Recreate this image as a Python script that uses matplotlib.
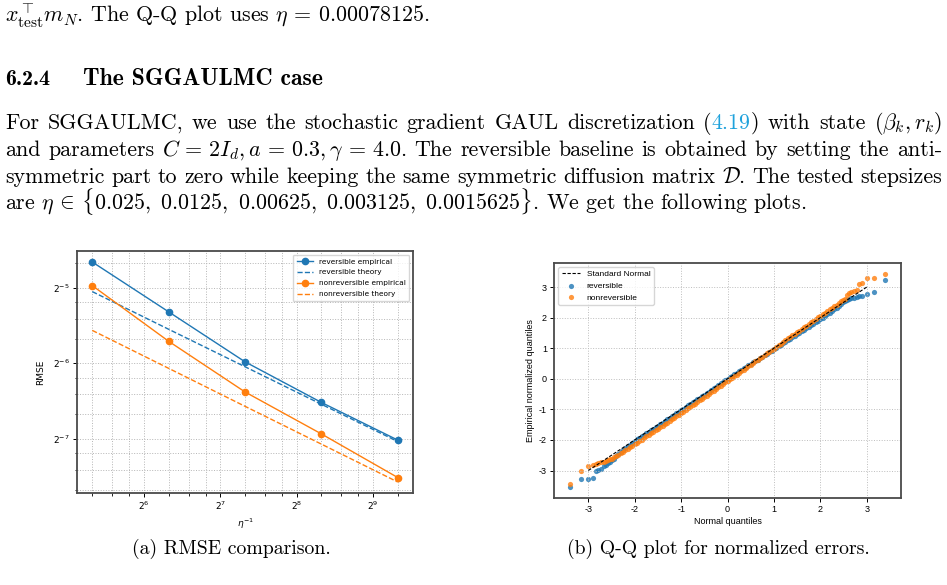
import matplotlib
matplotlib.use("Agg")
import matplotlib.pyplot as plt
from matplotlib.ticker import LogLocator, NullFormatter, FixedLocator

plt.rcParams['axes.unicode_minus'] = False

# ---- data: RMSE comparison (panel a) ----
inv_eta = [40, 80, 160, 320, 640]
rev_emp = [0.0395, 0.0250, 0.0158, 0.01088, 0.00770]
rev_theory = [0.0301, 0.0213, 0.0151, 0.0107, 0.00760]
nonrev_emp = [0.0318, 0.01908, 0.01198, 0.00815, 0.00546]
nonrev_theory = [0.02108, 0.01488, 0.01050, 0.00742, 0.00524]

# ---- data: Q-Q plot (panel b) ----
qq_x = [-3.40, -3.15, -3.00, -2.90, -2.84, -2.79, -2.73, -2.67, -2.62, -2.57, -2.53,
        -2.50, -2.45, -2.40, -2.35, -2.30, -2.25, -2.20, -2.15, -2.10, -2.05,
        -2.00, -1.95, -1.90, -1.85, -1.80, -1.75, -1.70, -1.65, -1.60, -1.55,
        -1.50, -1.45, -1.40, -1.35, -1.30, -1.25, -1.20, -1.15, -1.10, -1.05,
        -1.00, -0.95, -0.90, -0.85, -0.80, -0.75, -0.70, -0.65, -0.60, -0.55,
        -0.50, -0.45, -0.40, -0.35, -0.30, -0.25, -0.20, -0.15, -0.10, -0.05,
        0.00, 0.05, 0.10, 0.15, 0.20, 0.25, 0.30, 0.35, 0.40, 0.45,
        0.50, 0.55, 0.60, 0.65, 0.70, 0.75, 0.80, 0.85, 0.90, 0.95,
        1.00, 1.05, 1.10, 1.15, 1.20, 1.25, 1.30, 1.35, 1.40, 1.45,
        1.50, 1.55, 1.60, 1.65, 1.70, 1.75, 1.80, 1.85, 1.90, 1.95,
        2.00, 2.05, 2.10, 2.15, 2.20, 2.25, 2.30, 2.35, 2.40, 2.45,
        2.50, 2.53, 2.57, 2.62, 2.67, 2.73, 2.79, 2.84, 2.90, 3.00, 3.15, 3.40]
qq_rev = [-3.55, -3.29, -3.28, -3.25, -3.01, -2.98, -2.96, -2.84, -2.81, -2.77, -2.72,
          -2.67, -2.61, -2.54, -2.47, -2.40, -2.34, -2.27, -2.21, -2.15, -2.10,
          -2.04, -1.98, -1.93, -1.88, -1.83, -1.78, -1.73, -1.68, -1.63, -1.58,
          -1.53, -1.48, -1.43, -1.38, -1.33, -1.28, -1.23, -1.18, -1.13, -1.08,
          -1.03, -0.98, -0.93, -0.87, -0.82, -0.77, -0.72, -0.67, -0.62, -0.57,
          -0.52, -0.47, -0.42, -0.36, -0.31, -0.26, -0.21, -0.15, -0.10, -0.05,
          0.00, 0.05, 0.10, 0.15, 0.20, 0.24, 0.29, 0.34, 0.39, 0.44,
          0.49, 0.54, 0.58, 0.63, 0.68, 0.73, 0.77, 0.82, 0.87, 0.91,
          0.96, 1.01, 1.06, 1.11, 1.16, 1.21, 1.26, 1.31, 1.36, 1.41,
          1.46, 1.51, 1.56, 1.60, 1.65, 1.70, 1.75, 1.80, 1.85, 1.90,
          1.95, 2.00, 2.06, 2.11, 2.16, 2.21, 2.27, 2.33, 2.38, 2.44,
          2.50, 2.53, 2.57, 2.60, 2.63, 2.66, 2.68, 2.70, 2.72, 2.79, 2.85, 3.24]
qq_nonrev = [-3.44, -3.00, -2.85, -2.81, -2.78, -2.75, -2.73, -2.71, -2.68, -2.66, -2.63,
             -2.61, -2.57, -2.52, -2.48, -2.43, -2.39, -2.34, -2.29, -2.24, -2.19,
             -2.14, -2.09, -2.04, -1.99, -1.94, -1.88, -1.83, -1.78, -1.73, -1.68,
             -1.63, -1.58, -1.53, -1.48, -1.43, -1.38, -1.32, -1.27, -1.22, -1.17,
             -1.12, -1.07, -1.02, -0.96, -0.91, -0.86, -0.81, -0.76, -0.70, -0.65,
             -0.60, -0.55, -0.49, -0.44, -0.39, -0.34, -0.28, -0.23, -0.18, -0.12,
             -0.07, -0.02, 0.04, 0.09, 0.14, 0.19, 0.25, 0.30, 0.35, 0.41,
             0.46, 0.51, 0.57, 0.62, 0.67, 0.73, 0.78, 0.83, 0.88, 0.94,
             0.99, 1.05, 1.10, 1.15, 1.21, 1.26, 1.32, 1.37, 1.42, 1.48,
             1.53, 1.58, 1.64, 1.69, 1.74, 1.79, 1.85, 1.90, 1.95, 2.01,
             2.06, 2.11, 2.16, 2.22, 2.27, 2.32, 2.37, 2.42, 2.48, 2.53,
             2.58, 2.62, 2.75, 2.80, 2.84, 2.88, 2.92, 3.10, 3.15, 3.29, 3.30, 3.44]
qq_ticks = [-3, -2, -1, 0, 1, 2, 3]

W, H = 947, 585
fig = plt.figure(figsize=(W / 100, H / 100), dpi=100)
renderer = fig.canvas.get_renderer()
LINK = '#1fa2dc'


def put(x, y, s, size=None, **kw):
    # x, y in pixels from the top-left corner, y is the baseline
    kw.setdefault('family', 'cmr10')
    kw.setdefault('math_fontfamily', 'cm')
    return fig.text(x / W, 1 - y / H, s, va='baseline', fontsize=size or FS, **kw)


def fit_size(s, width, **kw):
    t = put(0, 0, s, size=10, **kw)
    w = t.get_window_extent(renderer).width
    t.remove()
    return 10 * width / w


def justify(y, words, x0=5, x1=942):
    pieces = []
    for word in words:
        if isinstance(word, str):
            word = [(word, 'black')]
        segs = [put(0, y, s, color=c) for s, c in word]
        ws = [t.get_window_extent(renderer).width for t in segs]
        pieces.append((segs, ws))
    total = sum(sum(ws) for _, ws in pieces)
    gap = (x1 - x0 - total) / (len(pieces) - 1)
    x = x0
    for segs, ws in pieces:
        for t, w in zip(segs, ws):
            t.set_x(x / W)
            x += w
        x += gap


# font size chosen so that the last (unjustified) paragraph line is as wide as in the page
last_line = (r'are $\eta\,\in\,\{0.025,\ 0.0125,\ 0.00625,\ 0.003125,\ 0.0015625\}$. '
             r'We get the following plots.')
FS = 10
FS = fit_size(last_line, 803)

# ---- page text ----
put(5, 22, r'$x_{\mathrm{test}}^{\top}m_N$. The Q-Q plot uses $\eta\,=\,0.00078125$.')
put(5, 85, '6.2.4', family='cmb10')
put(83, 85, 'The SGGAULMC case', family='cmb10', size=FS * 1.08)

justify(129, ['For', 'SGGAULMC,', 'we', 'use', 'the', 'stochastic', 'gradient', 'GAUL',
              'discretization', [('(', 'black'), ('4.19', LINK), (')', 'black')],
              'with', 'state', r'$(\beta_k, r_k)$'])
justify(156, ['and', 'parameters', r'$C\,=\,2I_d, a\,=\,0.3, \gamma\,=\,4.0$.', 'The', 'reversible',
              'baseline', 'is', 'obtained', 'by', 'setting', 'the', 'anti-'])
justify(183, ['symmetric', 'part', 'to', 'zero', 'while', 'keeping', 'the', 'same', 'symmetric',
              'diffusion', 'matrix', r'$\mathcal{D}$.', 'The', 'tested', 'stepsizes'])
put(5, 210, last_line)

put(231, 554, '(a) RMSE comparison.', ha='center', size=FS * 0.9)
put(718, 554, '(b) Q-Q plot for normalized errors.', ha='center', size=FS * 0.9)

# ---- panel (a): RMSE ----
ax1 = fig.add_axes([77 / W, 1 - 493 / H, 336 / W, 242 / H])
ax1.plot(inv_eta, rev_emp, 'o-', color='tab:blue', ms=4.5, lw=1, label='reversible empirical')
ax1.plot(inv_eta, rev_theory, '--', color='tab:blue', lw=1, label='reversible theory')
ax1.plot(inv_eta, nonrev_emp, 'o-', color='tab:orange', ms=4.5, lw=1, label='nonreversible empirical')
ax1.plot(inv_eta, nonrev_theory, '--', color='tab:orange', lw=1, label='nonreversible theory')
ax1.set_xscale('log', base=2)
ax1.set_yscale('log', base=2)
for axis in (ax1.xaxis, ax1.yaxis):
    axis.set_minor_locator(LogLocator(base=2, subs=(1.25, 1.5, 1.75)))
    axis.set_minor_formatter(NullFormatter())
ax1.grid(True, which='both', ls=':', color='#b5b5b5', lw=0.7)
ax1.tick_params(which='major', labelsize=6.5, length=3, width=0.7, pad=2)
ax1.tick_params(which='minor', length=1.8, width=0.6)
ax1.set_xlabel(r'$\eta^{-1}$', fontsize=6.5, labelpad=3)
ax1.set_ylabel('RMSE', fontsize=6.5, labelpad=6)
ax1.legend(loc='upper right', fontsize=5.3, handlelength=2.2, borderpad=0.5, labelspacing=0.65)
for sp in ax1.spines.values():
    sp.set_color('#4a4a4a')
    sp.set_linewidth(1.3)

# ---- panel (b): Q-Q ----
ax2 = fig.add_axes([554 / W, 1 - 498 / H, 347 / W, 235 / H])
ax2.plot([-3, 3], [-3, 3], 'k--', lw=0.8, dashes=(3, 1.5), label='Standard Normal')
ax2.scatter(qq_x, qq_rev, s=14, color='tab:blue', alpha=0.8, lw=0, label='reversible')
ax2.scatter(qq_x, qq_nonrev, s=14, color='tab:orange', alpha=0.8, lw=0, label='nonreversible')
ax2.xaxis.set_major_locator(FixedLocator(qq_ticks))
ax2.yaxis.set_major_locator(FixedLocator(qq_ticks))
ax2.grid(True, ls=':', color='#bdbdbd', lw=0.7)
ax2.tick_params(labelsize=6.5, length=3, width=0.7, pad=2)
for lab in ax2.get_xticklabels() + ax2.get_yticklabels():
    lab.set_family('Liberation Sans')
ax2.set_xlabel('Normal quantiles', fontsize=6.5, family='Liberation Sans', labelpad=2)
ax2.set_ylabel('Empirical normalized quantiles', fontsize=6.5, family='Liberation Sans', labelpad=3)
ax2.legend(loc='upper left', prop={'family': 'Liberation Sans', 'size': 6}, handlelength=2.2,
           borderpad=0.4, labelspacing=0.45)
for sp in ax2.spines.values():
    sp.set_color('#4a4a4a')
    sp.set_linewidth(1.3)

fig.savefig('out.png', dpi=100)
